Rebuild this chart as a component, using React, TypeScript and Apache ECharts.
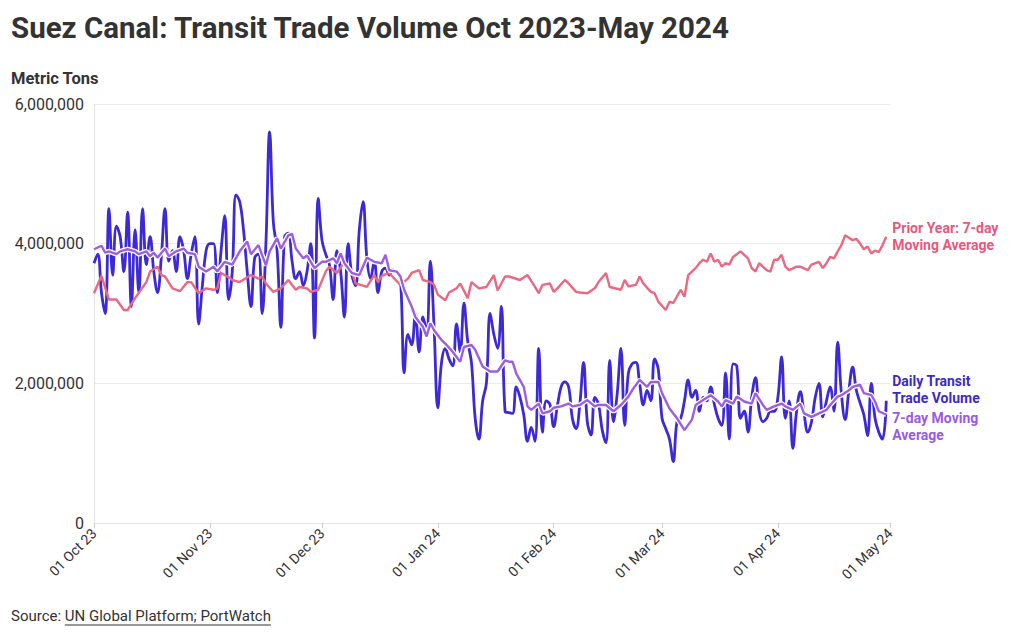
import React, { useEffect, useRef } from "react";
import * as echarts from "echarts";

// Day offsets from 01 Oct 2023
const tickDays = [0, 31, 61, 92, 123, 152, 183, 213];
const tickLabels = ["01 Oct 23", "01 Nov 23", "01 Dec 23", "01 Jan 24", "01 Feb 24", "01 Mar 24", "01 Apr 24", "01 May 24"];

// Daily transit trade volume (millions of metric tons), one value per day from 01 Oct 2023
const dailyValues = [
  3.72, 3.85, 3.3, 3.0, 4.5, 3.55, 4.25, 4.1, 3.6, 4.45,
  3.1, 4.2, 3.3, 4.5, 3.7, 4.1, 3.6, 3.3, 3.8, 4.5,
  3.75, 3.9, 3.6, 4.1, 3.9, 3.5, 3.85, 4.1, 2.85, 3.4,
  3.9, 4.0, 4.0, 3.3, 3.9, 4.4, 3.2, 3.6, 4.7, 4.6,
  4.2, 3.6, 3.1, 3.8, 3.85, 3.0, 4.0, 5.6, 4.3, 3.9,
  2.8, 4.1, 4.15, 3.75, 3.5, 3.6, 3.4, 3.6, 4.0, 2.65,
  4.65, 4.05, 3.85, 3.7, 3.2, 3.9, 3.6, 2.95, 4.0, 3.55,
  3.4, 4.2, 4.6, 3.8, 3.5, 3.75, 3.3, 3.6, 3.65, 3.55,
  3.62, 3.6, 3.5, 2.15, 2.7, 2.55, 3.0, 2.45, 2.95, 2.75,
  3.75, 2.8, 1.65, 2.3, 2.5, 2.35, 2.25, 2.85, 2.45, 3.15,
  2.6, 2.3, 1.5, 1.2, 1.75, 2.0, 3.0, 2.7, 2.5, 3.1,
  1.6, 1.58, 1.57, 1.95, 1.8, 1.55, 1.17, 1.37, 1.17, 2.5,
  1.3, 1.75, 1.7, 1.38, 1.68, 1.95, 2.02, 1.95, 1.5, 1.35,
  1.7, 2.3, 1.45, 1.26, 1.8, 1.7, 1.33, 1.15, 2.33, 1.45,
  1.85, 2.5, 1.4, 2.15, 2.28, 2.3, 2.0, 1.69, 1.9, 1.75,
  2.35, 2.2, 1.5, 1.35, 1.2, 0.88, 1.45, 1.5, 1.75, 2.05,
  1.8, 1.9, 1.6, 1.8, 1.75, 1.95, 1.7, 1.5, 1.4, 2.15,
  1.2, 2.28, 2.25, 1.5, 1.6, 1.3, 1.8, 2.08, 1.6, 1.45,
  1.5, 1.6, 1.6, 1.8, 2.38, 1.5, 1.75, 1.07, 1.6, 1.88,
  1.57, 1.3, 1.45, 1.8, 2.0, 1.52, 1.75, 1.95, 1.6, 2.59,
  1.85, 1.48, 1.9, 2.23, 1.9, 1.72, 1.55, 1.25, 2.0, 1.5,
  1.3, 1.2, 1.75,
];

// 7-day moving average (millions), read at these day offsets
const maDays = [
  0, 2, 3, 4, 6, 7, 9, 11, 12, 14, 15, 16, 17, 19, 20, 22, 24, 25, 27, 28,
  30, 32, 33, 35, 37, 39, 41, 42, 44, 46, 47, 49, 50, 52, 53, 54, 56, 57, 59, 61,
  62, 64, 65, 66, 67, 69, 71, 73, 75, 77, 78, 79, 81, 82, 83, 85, 86, 88, 89, 90,
  91, 93, 94, 96, 98, 99, 101, 102, 104, 106, 108, 110, 111, 112, 113, 115, 116, 117, 119, 120,
  122, 123, 125, 127, 128, 130, 132, 134, 135, 137, 139, 141, 143, 144, 146, 148, 149, 151, 152, 154,
  156, 158, 160, 161, 163, 165, 167, 168, 169, 171, 172, 174, 176, 177, 179, 180, 182, 184, 185, 187,
  189, 190, 192, 194, 196, 197, 199, 200, 202, 203, 205, 206, 208, 209, 210, 212,
];
const maValues = [
  3.92, 3.97, 3.87, 3.89, 3.85, 3.89, 3.92, 3.89, 3.85, 3.89, 3.82, 3.87, 3.8, 3.93, 3.82, 3.89, 3.93, 3.87, 3.85, 3.67,
  3.6, 3.67, 3.6, 3.74, 3.7, 3.89, 4.03, 3.85, 3.98, 3.69, 3.89, 4.08, 3.93, 4.12, 4.14, 3.93, 3.79, 3.83, 3.65, 3.74,
  3.74, 3.79, 3.72, 3.86, 3.72, 3.58, 3.55, 3.8, 3.74, 3.72, 3.84, 3.62, 3.6, 3.53, 3.34, 3.1, 2.95, 2.81, 2.67, 2.86,
  2.76, 2.62, 2.57, 2.45, 2.31, 2.52, 2.55, 2.48, 2.24, 2.17, 2.17, 2.33, 2.31, 2.31, 2.14, 1.95, 1.67, 1.62, 1.71, 1.57,
  1.6, 1.65, 1.67, 1.71, 1.67, 1.69, 1.76, 1.67, 1.69, 1.69, 1.6, 1.69, 1.81, 1.9, 2.05, 1.95, 2.02, 2.02, 1.86, 1.64,
  1.5, 1.33, 1.48, 1.69, 1.76, 1.83, 1.74, 1.67, 1.76, 1.71, 1.81, 1.74, 1.71, 1.86, 1.69, 1.62, 1.67, 1.71, 1.67, 1.62,
  1.71, 1.57, 1.52, 1.57, 1.62, 1.69, 1.81, 1.83, 1.9, 1.95, 1.98, 1.86, 1.83, 1.74, 1.6, 1.55,
];

// Prior year 7-day moving average (millions), read at these day offsets
const priorDays = [
  0, 2, 4, 6, 8, 9, 11, 14, 15, 17, 18, 19, 21, 23, 25, 26, 28, 30, 32, 33,
  34, 36, 37, 39, 42, 44, 45, 46, 48, 50, 52, 54, 55, 57, 58, 60, 62, 63, 65, 67,
  69, 70, 72, 73, 75, 76, 77, 79, 80, 82, 84, 85, 87, 88, 90, 91, 92, 94, 95, 97,
  98, 100, 101, 103, 105, 107, 108, 110, 111, 114, 116, 118, 119, 120, 122, 123, 124, 126, 127, 129,
  130, 132, 134, 135, 137, 138, 141, 142, 143, 145, 146, 147, 149, 150, 151, 153, 154, 155, 157, 158,
  159, 161, 162, 163, 164, 165, 166, 167, 168, 169, 170, 171, 173, 175, 176, 177, 178, 180, 181, 182,
  183, 184, 185, 186, 188, 189, 191, 192, 194, 195, 196, 197, 198, 199, 200, 201, 203, 204, 205, 206,
  207, 208, 209, 210, 211, 212,
];
const priorValues = [
  3.29, 3.54, 3.2, 3.2, 3.05, 3.05, 3.22, 3.45, 3.6, 3.67, 3.55, 3.53, 3.36, 3.32, 3.45, 3.45, 3.29, 3.36, 3.34, 3.36,
  3.58, 3.52, 3.48, 3.45, 3.55, 3.5, 3.53, 3.43, 3.31, 3.36, 3.48, 3.34, 3.38, 3.36, 3.31, 3.34, 3.6, 3.67, 3.58, 3.74,
  3.6, 3.43, 3.4, 3.38, 3.55, 3.45, 3.54, 3.58, 3.52, 3.41, 3.5, 3.58, 3.62, 3.48, 3.45, 3.41, 3.27, 3.19, 3.3, 3.36,
  3.43, 3.22, 3.45, 3.36, 3.38, 3.55, 3.33, 3.53, 3.53, 3.48, 3.55, 3.38, 3.29, 3.41, 3.43, 3.31, 3.36, 3.48, 3.43, 3.31,
  3.3, 3.29, 3.36, 3.45, 3.58, 3.38, 3.34, 3.48, 3.39, 3.41, 3.53, 3.43, 3.31, 3.29, 3.17, 3.05, 3.17, 3.15, 3.34, 3.24,
  3.55, 3.65, 3.72, 3.77, 3.74, 3.86, 3.74, 3.77, 3.67, 3.72, 3.7, 3.81, 3.89, 3.79, 3.65, 3.6, 3.72, 3.62, 3.6, 3.77,
  3.77, 3.84, 3.67, 3.62, 3.67, 3.67, 3.62, 3.7, 3.74, 3.65, 3.72, 3.81, 3.79, 3.89, 3.98, 4.12, 4.05, 4.07, 4.0, 3.92,
  3.96, 3.86, 3.9, 3.88, 3.98, 4.1,
];

const DAILY_COLOR = "#3d29d6";
const MA_COLOR = "#9d5fe0";
const PRIOR_COLOR = "#ec6882";
const FONT = "Roboto";

function measure(text: string, font: string): number {
  const c = document.createElement("canvas").getContext("2d");
  if (!c) return text.length * 7;
  c.font = font;
  return c.measureText(text).width;
}

export default function App() {
  const ref = useRef<HTMLDivElement>(null);
  useEffect(() => {
    if (!ref.current) return;
    const chart = echarts.init(ref.current, null, { renderer: "svg" });
    const daily = dailyValues.map((v, i) => [i, v * 1e6]);
    const ma = maDays.map((d, i) => [d, maValues[i] * 1e6]);
    const prior = priorDays.map((d, i) => [d, priorValues[i] * 1e6]);

    const srcPrefix = "Source: ";
    const srcLink = "UN Global Platform; PortWatch";
    const srcFont = `15px ${FONT}`;
    const prefixW = measure(srcPrefix, srcFont);
    const linkW = measure(srcLink, srcFont);

    const endLbl = (text: string, color: string, dy: number) => ({
      show: true,
      formatter: text,
      color,
      fontWeight: "bold",
      fontSize: 14,
      lineHeight: 17,
      distance: 6,
      offset: [0, dy],
    });

    chart.setOption({
      animation: false,
      textStyle: { fontFamily: FONT },
      title: {
        text: "Suez Canal: Transit Trade Volume Oct 2023-May 2024",
        left: 6,
        top: 8,
        textStyle: { fontSize: 29.5, fontWeight: "bold", color: "#333", fontFamily: FONT },
      },
      grid: { left: 94, right: 130, top: 104, bottom: 114 },
      xAxis: {
        type: "value",
        min: 0,
        max: 213,
        axisLine: { show: true, onZero: false, lineStyle: { color: "#e4e4e4", width: 1 } },
        axisTick: { show: true, customValues: tickDays, length: 5, lineStyle: { color: "#cccccc" } },
        axisLabel: {
          customValues: tickDays,
          rotate: 45,
          margin: 8,
          color: "#333",
          fontSize: 14,
          formatter: (v: number) => {
            const i = tickDays.indexOf(Math.round(v));
            return i >= 0 ? tickLabels[i] : "";
          },
        },
        splitLine: { show: false },
      },
      yAxis: {
        type: "value",
        min: 0,
        max: 6000000,
        interval: 2000000,
        axisLine: { show: true, lineStyle: { color: "#e4e4e4" } },
        axisTick: { show: false },
        splitLine: { lineStyle: { color: "#ececec" } },
        axisLabel: {
          color: "#333",
          fontSize: 16,
          margin: 10,
          formatter: (v: number) => v.toLocaleString("en-US"),
        },
      },
      graphic: [
        {
          type: "text",
          left: 11,
          top: 70,
          style: { text: "Metric Tons", fontSize: 16.5, fontWeight: "bold", fill: "#333", fontFamily: FONT },
        },
        {
          type: "text",
          left: 11,
          top: 608,
          style: { text: srcPrefix, fontSize: 15, fill: "#333", fontFamily: FONT },
        },
        {
          type: "text",
          left: 11 + prefixW,
          top: 608,
          style: { text: srcLink, fontSize: 15, fill: "#333", fontFamily: FONT },
        },
        {
          type: "line",
          shape: { x1: 11 + prefixW, y1: 625, x2: 11 + prefixW + linkW, y2: 625 },
          style: { stroke: "#333", lineWidth: 1 },
        },
      ],
      series: [
        {
          name: "Daily Transit Trade Volume",
          type: "line",
          data: daily,
          showSymbol: false,
          smooth: 0.4,
          z: 2,
          lineStyle: { color: DAILY_COLOR, width: 2.8 },
          itemStyle: { color: DAILY_COLOR },
          endLabel: endLbl("Daily Transit\nTrade Volume", "#3a2bc4", -11),
        },
        {
          name: "Prior Year: 7-day Moving Average",
          type: "line",
          data: prior,
          showSymbol: false,
          smooth: false,
          z: 3,
          lineStyle: { color: PRIOR_COLOR, width: 2.4 },
          itemStyle: { color: PRIOR_COLOR },
          endLabel: endLbl("Prior Year: 7-day\nMoving Average", "#e8587c", 0),
        },
        {
          name: "halo",
          type: "line",
          data: ma,
          showSymbol: false,
          silent: true,
          z: 4,
          lineStyle: { color: "#ffffff", width: 5 },
        },
        {
          name: "7-day Moving Average",
          type: "line",
          data: ma,
          showSymbol: false,
          z: 5,
          lineStyle: { color: MA_COLOR, width: 2.4 },
          itemStyle: { color: MA_COLOR },
          endLabel: endLbl("7-day Moving\nAverage", "#9a5be3", 12),
        },
      ],
    });
    return () => chart.dispose();
  }, []);
  return (
    <div
      ref={ref}
      style={{ position: "absolute", left: 0, top: 0, width: 1020, height: 637, background: "#fff" }}
    />
  );
}
